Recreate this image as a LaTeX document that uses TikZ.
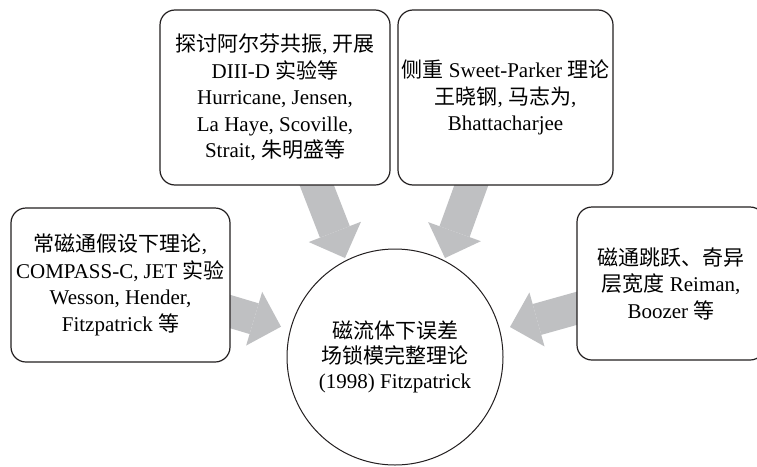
\documentclass[tikz,border=0pt]{standalone}
\usepackage{fontspec}
\setmainfont{Liberation Serif}
\newfontfamily\cjk{Noto Sans CJK SC}
\usetikzlibrary{arrows.meta}
\newcommand{\zh}[1]{{\cjk #1}}
\definecolor{arrowgray}{RGB}{191,192,194}
\definecolor{inkline}{RGB}{35,31,32}
\tikzset{
  infobox/.style={draw=inkline, line width=1.2pt, fill=white, rounded corners=15pt,
    align=center, inner sep=0pt, text=black, font=\fontsize{21}{26.5}\selectfont},
  hub/.style={circle, draw=inkline, line width=1pt, fill=white, align=center,
    inner sep=0pt, minimum size=216pt, text=black, font=\fontsize{21}{25}\selectfont},
  bigarrow/.style={arrowgray, line width=32pt,
    -{Triangle[width=56pt,length=28pt,line width=0pt]}}
}
\begin{document}
\begin{tikzpicture}[x=1pt,y=-1pt]
\clip (0,0) rectangle (757,466);
\fill[white] (0,0) rectangle (757,466);
% arrow end points
\coordinate (aLs) at (214,306.7);
\coordinate (aLt) at (281,326.7);
\coordinate (aTLs) at (310.5,169.2);
\coordinate (aTLt) at (345,258);
\coordinate (aTRs) at (477.3,168.7);
\coordinate (aTRt) at (445,258);
\coordinate (aRs) at (590,304.6);
\coordinate (aRt) at (510,327);
\draw[bigarrow] (aLs) -- (aLt);
\draw[bigarrow] (aTLs) -- (aTLt);
\draw[bigarrow] (aTRs) -- (aTRt);
\draw[bigarrow] (aRs) -- (aRt);
% boxes
\node[infobox, minimum width=230pt, minimum height=175pt] (b1) at (275,97.5)
  {\zh{探讨阿尔芬共振}, \zh{开展}\\DIII-D \zh{实验等}\\Hurricane, Jensen,\\La Haye, Scoville,\\Strait, \zh{朱明盛等}};
\node[infobox, minimum width=215pt, minimum height=175pt] (b2) at (505.5,97.5)
  {\zh{侧重} Sweet-Parker \zh{理论}\\\zh{王晓钢}, \zh{马志为},\\Bhattacharjee};
\node[infobox, minimum width=219pt, minimum height=154pt] (b3) at (120.5,285)
  {\zh{常磁通假设下理论},\\COMPASS-C, JET \zh{实验}\\Wesson, Hender,\\Fitzpatrick \zh{等}};
\node[infobox, minimum width=188pt, minimum height=153pt] (b4) at (671,283.5)
  {\zh{磁通跳跃、奇异}\\\zh{层宽度} Reiman,\\Boozer \zh{等}};
\node[hub] (c) at (395,357)
  {\zh{磁流体下误差}\\\zh{场锁模完整理论}\\(1998) Fitzpatrick};
\end{tikzpicture}
\end{document}
